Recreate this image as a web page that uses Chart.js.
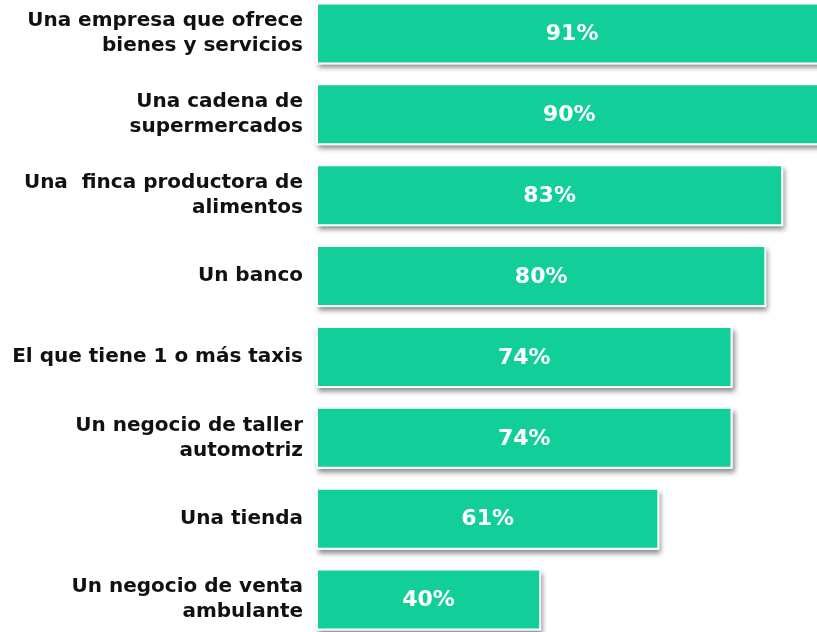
<!DOCTYPE html>
<html>
<head>
<meta charset="utf-8">
<script src="https://cdn.jsdelivr.net/npm/chart.js"></script>
<style>
  html, body { margin: 0; padding: 0; background: #fff; overflow: hidden; }
  #wrap { position: absolute; left: 0; top: -45px; width: 817px; height: 723px; }
</style>
</head>
<body>
<div id="wrap"><canvas id="chart" width="817" height="723"></canvas></div>
<script>
  var categories = [
    ['Una empresa que ofrece', 'bienes y servicios'],
    ['Una cadena de', 'supermercados'],
    ['Una  finca productora de', 'alimentos'],
    'Un banco',
    'El que tiene 1 o más taxis',
    ['Un negocio de taller', 'automotriz'],
    'Una tienda',
    ['Un negocio de venta', 'ambulante']
  ];
  var values = [91, 90, 83, 80, 74, 74, 61, 40];
  var valueLabels = ['91%', '90%', '83%', '80%', '74%', '74%', '61%', '40%'];

  var barColor = '#12cf9a';

  // soft drop shadow drawn behind each bar
  var shadowPlugin = {
    id: 'barShadow',
    beforeDatasetsDraw: function(chart) {
      var ctx = chart.ctx;
      var meta = chart.getDatasetMeta(0);
      ctx.save();
      ctx.shadowColor = 'rgba(0,0,0,0.45)';
      ctx.shadowBlur = 5;
      ctx.shadowOffsetX = 2;
      ctx.shadowOffsetY = 4;
      ctx.fillStyle = '#ffffff';
      meta.data.forEach(function(bar) {
        var left = Math.min(bar.base, bar.x);
        var w = Math.abs(bar.x - bar.base);
        ctx.fillRect(left, bar.y - bar.height / 2, w, bar.height);
      });
      ctx.restore();
    }
  };

  // percentage text centred in each bar
  var valuePlugin = {
    id: 'valueText',
    afterDatasetsDraw: function(chart) {
      var ctx = chart.ctx;
      var meta = chart.getDatasetMeta(0);
      ctx.save();
      ctx.fillStyle = '#ffffff';
      ctx.font = 'bold 22px "DejaVu Sans"';
      ctx.textAlign = 'center';
      ctx.textBaseline = 'middle';
      meta.data.forEach(function(bar, i) {
        ctx.fillText(valueLabels[i], (bar.x + bar.base) / 2, bar.y + 1);
      });
      ctx.restore();
    }
  };

  new Chart(document.getElementById('chart').getContext('2d'), {
    type: 'bar',
    data: {
      labels: categories,
      datasets: [{
        data: values,
        backgroundColor: barColor,
        borderColor: '#ffffff',
        borderWidth: 2,
        borderSkipped: false,
        categoryPercentage: 1,
        barPercentage: 0.767
      }]
    },
    options: {
      indexAxis: 'y',
      responsive: false,
      animation: false,
      layout: { padding: 0 },
      plugins: {
        legend: { display: false },
        tooltip: { enabled: false }
      },
      scales: {
        x: {
          display: false,
          min: 0,
          max: 89
        },
        y: {
          grid: { display: false, drawTicks: false },
          border: { display: false },
          afterFit: function(scale) { scale.width = 316; },
          ticks: {
            color: '#111111',
            padding: 13,
            font: { family: '"DejaVu Sans"', size: 20, weight: 'bold', lineHeight: '25px' }
          }
        }
      }
    },
    plugins: [shadowPlugin, valuePlugin]
  });
</script>
</body>
</html>
